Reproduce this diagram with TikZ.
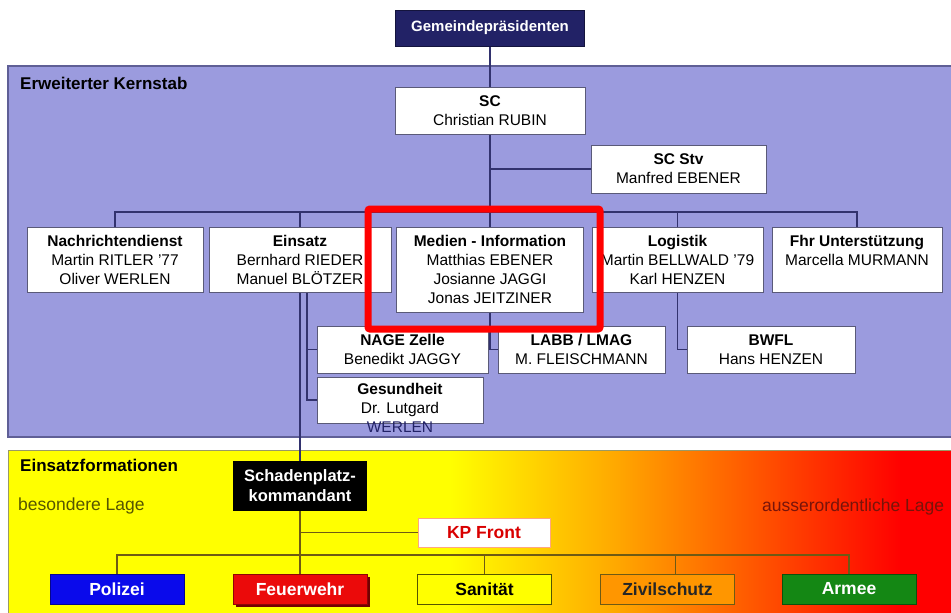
\documentclass[tikz,border=0pt]{standalone}
\usepackage{fontspec}
\setmainfont{Liberation Sans}
\usetikzlibrary{shadows}
\definecolor{lav}{RGB}{155,155,222}
\definecolor{lavline}{RGB}{95,95,150}
\definecolor{navy}{RGB}{34,34,102}
\definecolor{conn}{RGB}{50,50,110}
\definecolor{bconn}{RGB}{110,90,20}
\definecolor{boxline}{RGB}{90,90,120}
\definecolor{olive}{RGB}{85,85,0}
\definecolor{darkred}{RGB}{120,20,10}
\definecolor{yel}{RGB}{255,255,0}
\definecolor{rd}{RGB}{255,0,0}
\definecolor{orng}{RGB}{255,165,0}
\definecolor{redorng}{RGB}{255,70,0}
\definecolor{pol}{RGB}{10,10,235}
\definecolor{fw}{RGB}{235,10,10}
\definecolor{arm}{RGB}{20,135,20}
\definecolor{ziv}{RGB}{255,150,0}
\pgfdeclarelayer{back}
\pgfdeclarelayer{bg}
\pgfsetlayers{back,bg,main}
\begin{document}
\begin{tikzpicture}[x=1pt,y=-1pt,
  pbox/.style={draw=boxline, fill=white, line width=0.8pt, align=center, inner sep=0pt,
    font=\fontsize{15.5}{19}\selectfont},
  bbox/.style={draw=#1!60!black, line width=0.8pt, align=center, inner sep=0pt,
    minimum width=134, minimum height=30, font=\bfseries\fontsize{17.5}{20}\selectfont},
  lnk/.style={draw=conn, line width=1.8pt},
  blnk/.style={draw=bconn, line width=1.4pt},
  hdr/.style={anchor=west, inner sep=0pt, font=\bfseries\fontsize{17}{20}\selectfont},
  lage/.style={anchor=west, inner sep=0pt, font=\fontsize{17.5}{20}\selectfont}
]
\useasboundingbox (0,0) rectangle (951,613);

% regions
\begin{pgfonlayer}{back}
\fill[white] (0,0) rectangle (951,613);
\fill[lav] (8,66) rectangle (960,437);
\draw[lavline, line width=1.5pt] (960,66) -- (8,66) -- (8,437) -- (960,437);
\fill[yel] (8,450) rectangle (452,620);
\shade[left color=yel, right color=orng] (450,450) rectangle (622,620);
\shade[left color=orng, right color=redorng] (620,450) rectangle (782,620);
\shade[left color=redorng, right color=rd] (780,450) rectangle (902,620);
\fill[rd] (900,450) rectangle (960,620);
\draw[olive!60, line width=1pt] (960,450) -- (8,450) -- (8,620);
\end{pgfonlayer}

\node[hdr] (kern) at (20,83) {Erweiterter Kernstab};
\node[hdr] (einf) at (20,465) {Einsatzformationen};
\node[lage, text=olive] (bes) at (18,506) {besondere Lage};
\node[lage, text=darkred] (aus) at (762,507) {ausserordentliche Lage};

% top nodes
\node[fill=navy, draw=navy!60!black, text=white, minimum width=189, minimum height=36,
  inner sep=0pt, font=\bfseries\fontsize{15}{18}\selectfont] (gp) at (490,28) {Gemeindepräsidenten};
\node[pbox, minimum width=190, minimum height=47] (sc) at (490,110.5) {\textbf{SC}\\Christian RUBIN};
\node[pbox, minimum width=175, minimum height=48] (scs) at (678.5,169) {\textbf{SC Stv}\\Manfred EBENER};

\node[pbox, minimum width=176, minimum height=65] (nd) at (115,259.5)
  {\textbf{Nachrichtendienst}\\Martin RITLER '77\\Oliver WERLEN};
\node[pbox, minimum width=182, minimum height=65] (ein) at (300,259.5)
  {\textbf{Einsatz}\\Bernhard RIEDER\\Manuel BLÖTZER};
\node[pbox, minimum width=187, minimum height=85] (med) at (490,269.5)
  {\textbf{Medien - Information}\\Matthias EBENER\\Josianne JAGGI\\Jonas JEITZINER};
\node[pbox, minimum width=171, minimum height=65] (log) at (677.5,259.5)
  {\textbf{Logistik}\\Martin BELLWALD '79\\Karl HENZEN};
\node[pbox, minimum width=170, minimum height=65] (fhr) at (857,259.5)
  {\textbf{Fhr Unterstützung}\\Marcella MURMANN\\\mbox{}};

\node[pbox, minimum width=171, minimum height=47] (nage) at (402.5,349.5)
  {\textbf{NAGE Zelle}\\Benedikt JAGGY};
\node[pbox, minimum width=167, minimum height=47] (labb) at (581.5,349.5)
  {\textbf{LABB / LMAG}\\M. FLEISCHMANN};
\node[pbox, minimum width=168, minimum height=47] (bwfl) at (771,349.5)
  {\textbf{BWFL}\\Hans HENZEN};
\node[pbox, minimum width=166, minimum height=46] (ges) at (400,400) {};
\node[align=center, inner sep=0pt, font=\fontsize{15.5}{19}\selectfont] (gest) at (400,408)
  {\textbf{Gesundheit}\\Dr. Lutgard\\{\color{navy}WERLEN}};

% lower nodes
\node[fill=black, draw=black, text=white, minimum width=133, minimum height=49, inner sep=0pt,
  align=center, font=\bfseries\fontsize{16.5}{20}\selectfont] (spk) at (300,485.5)
  {Schadenplatz-\\kommandant};
\node[fill=white, draw=orange!60!red!50, line width=0.8pt, text=red!85!black, minimum width=132,
  minimum height=29, inner sep=0pt, font=\bfseries\fontsize{17.5}{20}\selectfont] (kp) at (484,532.5) {KP Front};

\node[bbox=pol, fill=pol, text=white] (pol) at (117,589) {Polizei};
\node[bbox=fw, fill=fw, text=white, drop shadow={shadow xshift=3pt, shadow yshift=-3pt,
  fill=red!45!black, opacity=1}] (fw) at (300,589) {Feuerwehr};
\node[bbox=yel, fill=yel, text=black, draw=olive] (san) at (484.5,589) {Sanität};
\node[bbox=ziv, fill=ziv, text=black!85, draw=bconn] (ziv) at (667.5,589) {Zivilschutz};
\node[bbox=arm, fill=arm, text=white] (arm) at (849,589) {Armee};

\coordinate (busy) at (0,212);
\coordinate (busb) at (0,555);

\begin{pgfonlayer}{bg}
\draw[lnk] (gp.south) -- (med.north);
\draw[lnk] (scs.west) -- (scs.west -| gp.south);
\draw[lnk] (nd.north) |- (busy -| fhr.north) -- (fhr.north);
\draw[lnk] (ein.north) -- (ein.north |- busy);
\draw[lnk] (log.north) -- (log.north |- busy);
\draw[lnk] (med.south) |- (labb.west);
\draw[lnk] (log.south) |- (bwfl.west);
\draw[lnk] ([xshift=7pt]ein.south) |- (nage.west);
\draw[lnk] ([xshift=7pt]ein.south) |- (ges.west);
\draw[lnk] (ein.south) -- (spk.north);
\draw[blnk] (spk.south) -- (fw.north);
\draw[blnk] (kp.west) -- (kp.west -| spk.south);
\draw[blnk] (pol.north) |- (busb -| arm.north) -- (arm.north);
\draw[blnk] (san.north) -- (san.north |- busb);
\draw[blnk] ([xshift=8pt]ziv.north) -- ([xshift=8pt]ziv.north |- busb);
\end{pgfonlayer}

% highlight
\draw[rd, line width=7pt, rounded corners=2pt] (368,209) rectangle (600,329);
\end{tikzpicture}
\end{document}
